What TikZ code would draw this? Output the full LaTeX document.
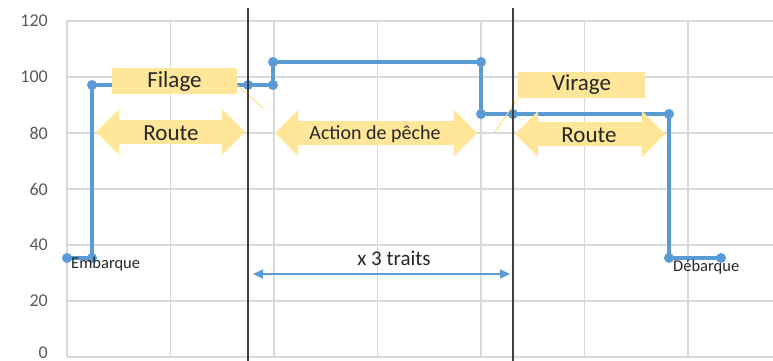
\documentclass[tikz,border=0pt]{standalone}
\usepackage{fontspec}
\setmainfont{Carlito}
\usetikzlibrary{arrows.meta}
\definecolor{gridc}{HTML}{D9D9D9}
\definecolor{serie}{HTML}{5B9BD5}
\definecolor{yel}{HTML}{FFE699}
\definecolor{leadc}{HTML}{FFD966}
\definecolor{blk}{HTML}{404040}
\definecolor{tickc}{HTML}{595959}
\definecolor{txt}{HTML}{262626}
\newcommand\yarrow[3]{%
  \fill[yel] (#1,#3) -- ++(23,-23) -- ++(0,11) -- ({#2-23},{#3-12}) -- ++(0,-11)
   -- (#2,#3) -- ++(-23,23) -- ++(0,-11) -- ({#1+23},{#3+12}) -- ++(0,11) -- cycle;}
\begin{document}
\begin{tikzpicture}[x=1pt,y=-1pt,
  gridline/.style={draw=gridc,line width=1.3pt},
  sepline/.style={draw=blk,line width=1.8pt},
  serieline/.style={draw=serie,line width=4.8pt,line join=round},
  mk/.style={fill=serie},
  ticklab/.style={anchor=east,text=tickc,font=\fontsize{18}{20}\selectfont,inner sep=0pt},
  boxlab/.style={fill=yel,text=txt,font=\fontsize{23}{26}\selectfont,inner sep=0pt,minimum height=26pt},
  arrlab/.style={text=txt,inner sep=0pt},
  datalab/.style={anchor=west,text=txt,font=\fontsize{16.5}{18}\selectfont,inner sep=0pt},
  leader/.style={draw=leadc,line width=0.8pt}]
\useasboundingbox (0,0) rectangle (773,361);
% grid
\foreach \v/\yy in {0/357,20/301,40/245,60/189,80/133,100/77,120/21}{
  \draw[gridline] (67,\yy) -- (773,\yy);
}
\foreach \v/\yy in {0/353,20/301,40/245,60/189,80/133,100/77,120/21}{
  \node[ticklab] (t\v) at (48,\yy) {\v};
}
\foreach \xx in {67,170.5,274,377.5,481,584.5,688}{
  \draw[gridline] (\xx,21) -- (\xx,357);
}
% series
\coordinate (p1) at (67,258);
\coordinate (p2) at (92,258);
\coordinate (p3) at (92,85);
\coordinate (p4) at (248,85);
\coordinate (p5) at (273,85);
\coordinate (p6) at (273,62);
\coordinate (p7) at (481,62);
\coordinate (p8) at (481,114);
\coordinate (p9) at (513,114);
\coordinate (p10) at (669,114);
\coordinate (p11) at (669,258);
\coordinate (p12) at (721,258);
\draw[serieline] (p1) -- (p2) -- (p3) -- (p4) -- (p5) -- (p6) -- (p7) -- (p8) -- (p9) -- (p10) -- (p11) -- (p12);
\foreach \i in {1,...,12}{\fill[mk] (p\i) circle (5);}
% yellow shapes
\yarrow{96}{245}{132}
\yarrow{275}{477}{133}
\yarrow{515}{665}{134}
\node[boxlab,minimum width=125pt] (filage) at (174.5,81) {Filage};
\node[boxlab,minimum width=127pt] (virage) at (581.5,85) {Virage};
\node[arrlab,font=\fontsize{23}{26}\selectfont] (route1) at (171,133) {Route};
\node[arrlab,font=\fontsize{20}{24}\selectfont] (action) at (375,134) {Action de pêche};
\node[arrlab,font=\fontsize{23}{26}\selectfont] (route2) at (589,135) {Route};
% leaders
\coordinate (l1) at (263,108);
\coordinate (l2) at (495,132);
\draw[leader] (filage.east |- p4) -- (l1);
\draw[leader] (l2) -- (virage.south west);
% separators
\coordinate (s1t) at (248,8);
\coordinate (s1b) at (248,361);
\coordinate (s2t) at (513,8);
\coordinate (s2b) at (513,361);
\draw[sepline] (s1t) -- (s1b);
\draw[sepline] (s2t) -- (s2b);
% traits arrow
\coordinate (a1) at (253,274);
\coordinate (a2) at (510,274);
\draw[serie,line width=1.3pt,{Triangle[length=10pt,width=9pt]}-{Triangle[length=10pt,width=9pt]}] (a1) -- (a2);
\node[arrlab,font=\fontsize{21}{24}\selectfont] (traits) at (394,258) {x 3 traits};
% data labels
\node[datalab] (emb) at (71,264) {Embarque};
\node[datalab] (deb) at (673,267) {Débarque};
\end{tikzpicture}
\end{document}
